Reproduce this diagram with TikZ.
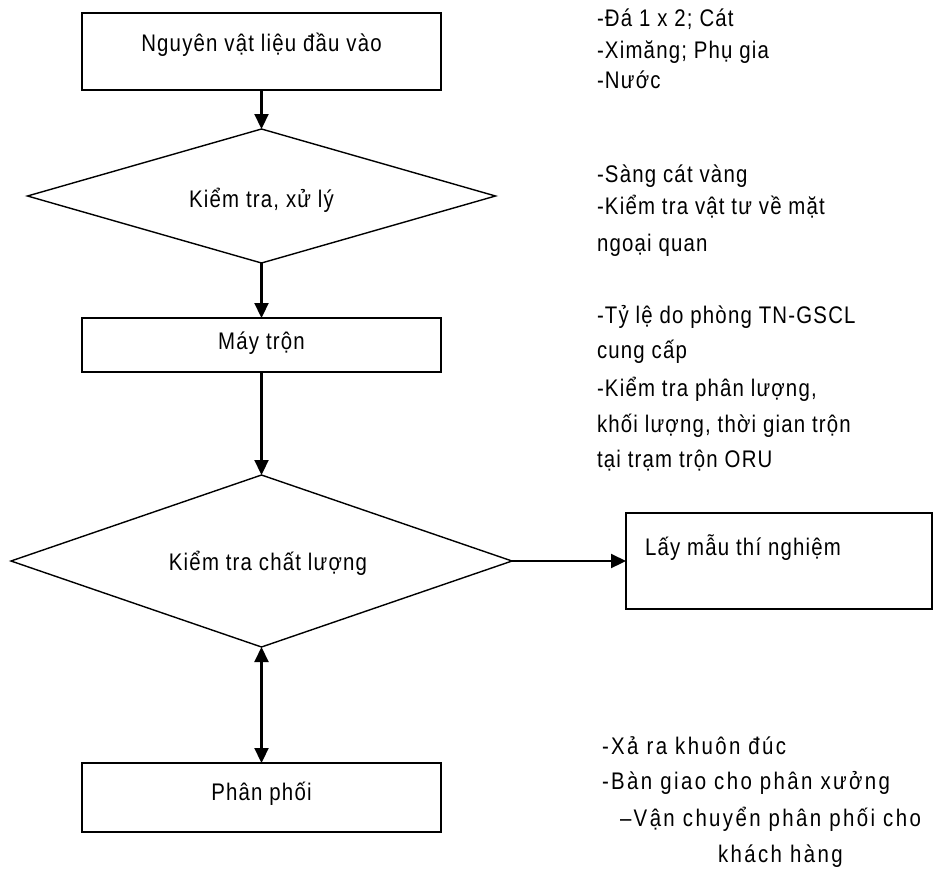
\documentclass[tikz,border=0pt]{standalone}
\usepackage{fontspec}
\setmainfont{Liberation Sans}[FakeStretch=0.85,LetterSpace=5]
\newfontfamily\widefont{Liberation Sans}[FakeStretch=0.85,LetterSpace=10]
\usetikzlibrary{shapes.geometric,arrows.meta}
\begin{document}
\begin{tikzpicture}[x=1pt,y=-1pt,
  every node/.style={font=\fontsize{24}{28}\selectfont, inner sep=0pt, outer sep=0pt},
  boxshape/.style={draw, line width=1.6pt, minimum width=359pt},
  dshape/.style={draw, diamond, line width=1.4pt},
  conn/.style={line width=2.2pt, -{Triangle[length=15pt,width=14pt]}},
  side/.style={anchor=base west},
  wside/.style={anchor=base west, font=\widefont\fontsize{24}{28}\selectfont}]
\useasboundingbox (0,0) rectangle (933,873);
% main boxes
\node[boxshape, minimum height=77pt] (b1) at (261.5,51.5) {};
\node (t1) at (261.5,45) {Nguyên vật liệu đầu vào};
\node[dshape, minimum width=468pt, minimum height=134pt] (d1) at (261.5,196) {};
\node (td1) at (261.5,200) {Kiểm tra, xử lý};
\node[boxshape, minimum height=54pt] (b2) at (261.5,345) {};
\node (t2) at (261.5,343) {Máy trộn};
\node[dshape, minimum width=501pt, minimum height=172pt] (d2) at (261.5,561) {};
\node (td2) at (268,563) {Kiểm tra chất lượng};
\node[boxshape, minimum height=69pt] (b3) at (261.5,797.5) {};
\node (t3) at (261.5,794) {Phân phối};
\node[draw, line width=1.6pt, minimum width=306pt, minimum height=96pt] (b4) at (779,561) {};
\node[anchor=base west] (t4) at (645,555) {Lấy mẫu thí nghiệm};
% connectors
\draw[conn] (b1.south) -- (d1.north);
\draw[conn] (d1.south) -- (b2.north);
\draw[conn] (b2.south) -- (d2.north);
\draw[line width=2.2pt, {Triangle[length=15pt,width=14pt]}-{Triangle[length=15pt,width=14pt]}] (d2.south) -- (b3.north);
\draw[conn] (d2.east) -- (b4.west);
% side notes
\node[side] (n1) at (597,26) {-Đá 1 x 2; Cát};
\node[side] (n2) at (597,58) {-Ximăng; Phụ gia};
\node[side] (n3) at (597,88) {-Nước};
\node[side] (n4) at (597,182) {-Sàng cát vàng};
\node[side] (n5) at (597,214) {-Kiểm tra vật tư về mặt};
\node[side] (n6) at (597,251) {ngoại quan};
\node[side] (n7) at (597,323) {-Tỷ lệ do phòng TN-GSCL};
\node[side] (n8) at (597,358) {cung cấp};
\node[side] (n9) at (597,396) {-Kiểm tra phân lượng,};
\node[side] (n10) at (597,432) {khối lượng, thời gian trộn};
\node[side] (n11) at (597,467) {tại trạm trộn ORU};
\node[wside] (n12) at (602,754) {-Xả ra khuôn đúc};
\node[wside] (n13) at (602,789) {-Bàn giao cho phân xưởng};
\node[wside] (n14) at (620,826) {–Vận chuyển phân phối cho};
\node[wside] (n15) at (718,862) {khách hàng};
\end{tikzpicture}
\end{document}
